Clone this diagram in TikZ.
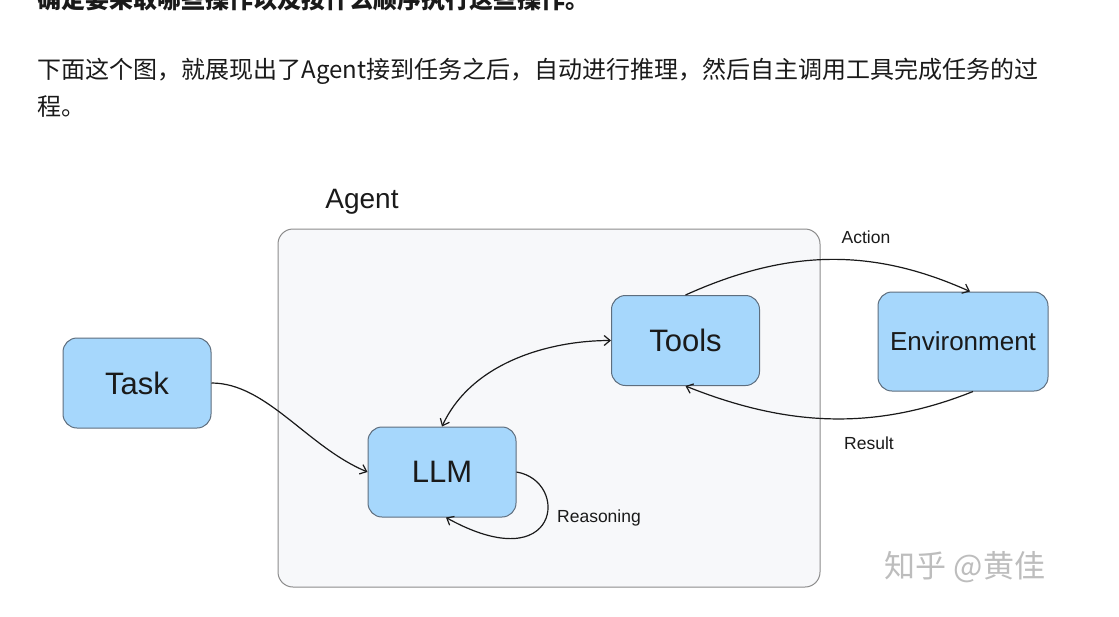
\documentclass[tikz,border=0pt]{standalone}
\usepackage{fontspec}
\setmainfont{Liberation Sans}
\newfontfamily\cjk{Noto Sans CJK SC}
\usetikzlibrary{arrows.meta}
\definecolor{kastenblau}{HTML}{A6D7FC}
\definecolor{kastenrand}{HTML}{5E6E7E}
\definecolor{agentgrau}{HTML}{F7F8FA}
\definecolor{agentrand}{HTML}{8C8C8C}
\definecolor{textgrau}{HTML}{1A1A1A}
\definecolor{wzgrau}{HTML}{BDBDBD}
\begin{document}
\begin{tikzpicture}[x=1pt,y=-1pt,line width=1pt,>={Straight Barb[length=6pt,width=10pt]},
      pfeil/.style={line width=1.2pt, draw=textgrau},
      kasten/.style={draw=kastenrand, fill=kastenblau, rounded corners=14pt,
        minimum width=148pt, minimum height=90pt, text=textgrau,
        font=\fontsize{31}{31}\selectfont},
      mytext/.style={text=textgrau, font=\fontsize{17.5}{17.5}\selectfont},
      absatz/.style={anchor=west, inner sep=0pt, text=textgrau,
        font=\cjk\fontsize{24}{24}\selectfont}]
    \clip (0,0) rectangle (1119,616);
    \fill[white] (0,0) rectangle (1119,616);
    \node[absatz,font=\cjk\bfseries\fontsize{24}{24}\selectfont] at (37,-1) (P0)
      {确定要采取哪些操作以及按什么顺序执行这些操作。};
    \node[absatz] at (37,71) (P1)
      {下面这个图，就展现出了Agent接到任务之后，自动进行推理，然后自主调用工具完成任务的过};
    \node[absatz] at (37,107) (P2) {程。};
    \node[draw=agentrand,fill=agentgrau,rounded corners=15pt,minimum width=542pt,
      minimum height=358pt] at (549,408) [rectangle] (A4) {};
    \node[text=textgrau,font=\fontsize{28}{28}\selectfont] at (362,202) (A5) {Agent};
    \node[kasten] at (137,383) [rectangle] (A0) {Task};
    \node[kasten] at (442,472) [rectangle] (A1) {LLM};
    \node[kasten] at (685.5,340.5) [rectangle] (A2) {Tools};
    \node[kasten,minimum width=170pt,minimum height=99pt,
      font=\fontsize{26}{26}\selectfont] at (963,341.5) [rectangle] (A3) {Environment};
    \draw[pfeil,->] (A0.east) .. controls +(55,0) and +(-60,-25) .. (A1.west);
    \draw[pfeil,<->] (A1.north) .. controls +(30,-65) and +(-60,0) .. (A2.west);
    \draw[pfeil,->] (A2.north) .. controls +(100,-45) and +(-100,-45) .. ([xshift=7]A3.north);
    \draw[pfeil,->] ([xshift=10]A3.south) .. controls +(-100,40) and +(100,40) .. (A2.south);
    \draw[pfeil,->] (A1.east) .. controls +(54,9) and +(114,63) .. (A1.-85);
    \node[mytext] at (866,237) (L0) {Action};
    \node[mytext] at (869,443) (L1) {Result};
    \node[mytext] at (599,518) (L2) {Reasoning};
    \node[text=wzgrau,font=\cjk\fontsize{31}{31}\selectfont] at (965,567) (W0) {知乎 @黄佳};
  \end{tikzpicture}
\end{document}
